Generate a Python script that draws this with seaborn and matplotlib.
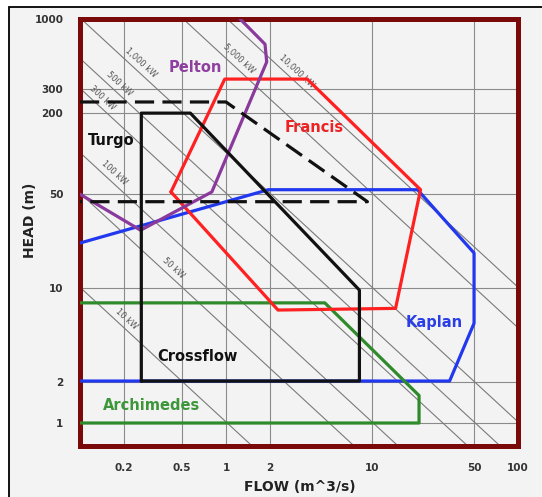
import numpy as np
import pandas as pd
import matplotlib
matplotlib.use("Agg")
import matplotlib.pyplot as plt
import seaborn as sns
from matplotlib.patches import Rectangle

# ---------------- data (flow Q in m^3/s, head H in m) ----------------
pelton_q = [1.25, 1.85, 1.9, 0.8, 0.26, 0.1]
pelton_h = [1000, 650, 480, 52, 27, 50]

francis_q = [0.42, 0.98, 3.6, 21.5, 14.5, 2.27, 0.42]
francis_h = [52, 358, 358, 54, 7.1, 6.9, 52]

kaplan_q = [0.1, 1.95, 20.5, 50, 50, 34, 0.1]
kaplan_h = [21.7, 54, 54, 18.3, 5.5, 2.05, 2.05]

crossflow_q = [0.263, 0.263, 0.57, 8.2, 8.2, 0.263]
crossflow_h = [2.05, 200, 200, 9.7, 2.05, 2.05]

turgo_q = [0.1, 1.0, 9.3, 0.1]
turgo_h = [242, 242, 44, 44]

archimedes_q = [0.1, 4.75, 21, 21, 0.1]
archimedes_h = [7.8, 7.8, 1.6, 1.0, 1.0]

turbine_names = ["Pelton", "Francis", "Turgo", "Kaplan", "Crossflow", "Archimedes"]
turbine_label_q = [0.62, 4.0, 0.164, 26.8, 0.64, 0.31]
turbine_label_h = [440, 157, 126, 5.6, 3.14, 1.36]

power_kw = [10, 50, 100, 300, 500, 1000, 5000, 10000]
power_labels = ["10 kW", "50 kW", "100 kW", "300 kW", "500 kW",
                "1,000 kW", "5,000 kW", "10,000 kW"]
power_label_q = [0.19, 0.40, 0.156, 0.13, 0.17, 0.24, 1.12, 2.78]

x_ticks = [0.2, 0.5, 1, 2, 10, 50, 100]
x_tick_labels = ["0.2", "0.5", "1", "2", "10", "50", "100"]
y_ticks = [1, 2, 10, 50, 200, 300, 1000]
y_tick_labels = ["1", "2", "10", "50", "200", "300", "1000"]

# ---------------- styling ----------------
sns.set_theme(style="white")
plt.rcParams['font.family'] = ['DejaVu Sans']

W, Hh = 542, 497
fig = plt.figure(figsize=(W / 100, Hh / 100), dpi=100, facecolor='white')
fig.add_artist(Rectangle((9 / W, -0.05), 1.2, (1 - 7 / Hh) + 0.05,
                         transform=fig.transFigure, facecolor='#f3f3f3',
                         edgecolor='black', lw=1.3, zorder=-10))

ax = fig.add_axes([80 / W, 1 - 446 / Hh, (518 - 80) / W, (446 - 19) / Hh])
ax.set_facecolor('#f3f3f3')
ax.set_xscale('log')
ax.set_yscale('log')
ax.set_xlim(0.1, 100)
ax.set_ylim(0.675, 1000)

ax.set_xticks(x_ticks, x_tick_labels, fontweight='bold')
ax.set_yticks(y_ticks, y_tick_labels, fontweight='bold')
ax.minorticks_off()
ax.tick_params(length=0, pad=12, labelsize=7.5, labelcolor='#333333')
ax.grid(True, color='#8a8a8a', lw=0.8)
ax.set_axisbelow(True)

for s in ax.spines.values():
    s.set_color('#7a0a0a')
    s.set_linewidth(3.6)
    s.set_visible(True)

# power lines P = 9.81 * Q * H (kW)
q_span = np.array([0.03, 500.0])
for p, lab, ql in zip(power_kw, power_labels, power_label_q):
    dfp = pd.DataFrame({'Q': q_span, 'H': p / (9.81 * q_span)})
    sns.lineplot(data=dfp, x='Q', y='H', sort=False, estimator=None,
                 color='#7a7a7a', lw=0.8, ax=ax, zorder=1.5)
    ax.annotate(lab, (ql, p / (9.81 * ql)), xytext=(2, 2),
                textcoords='offset points', rotation=-42.6,
                rotation_mode='anchor', ha='center', va='bottom',
                fontsize=6, color='#555555')

shapes = [
    (kaplan_q, kaplan_h, '#2238ee', None),
    (archimedes_q, archimedes_h, '#2f8a2b', None),
    (francis_q, francis_h, '#ff2121', None),
    (pelton_q, pelton_h, '#8a3a9c', None),
    (crossflow_q, crossflow_h, '#111111', None),
    (turgo_q, turgo_h, '#111111', (6, 2.6)),
]
for q, h, col, dashes in shapes:
    dfs = pd.DataFrame({'Q': q, 'H': h})
    kw = {}
    if dashes is not None:
        kw['dashes'] = dashes
    sns.lineplot(data=dfs, x='Q', y='H', sort=False, estimator=None,
                 color=col, lw=2.3, ax=ax, zorder=3, **kw)

label_colors = ['#8e3fa0', '#ee2222', '#111111', '#2a3ee6', '#111111', '#3e963a']
for name, q, h, col in zip(turbine_names, turbine_label_q, turbine_label_h, label_colors):
    ax.text(q, h, name, color=col, fontsize=10.5, fontweight='bold',
            ha='center', va='center', zorder=4)

ax.set_xlabel("FLOW (m^3/s)", fontsize=10, fontweight='bold', color='#222222')
ax.set_ylabel("HEAD (m)", fontsize=10, fontweight='bold', color='#222222')
ax.xaxis.set_label_coords(0.502, -0.080)
ax.yaxis.set_label_coords(-0.098, 0.529)

fig.savefig("out.png", dpi=100, facecolor=fig.get_facecolor())
